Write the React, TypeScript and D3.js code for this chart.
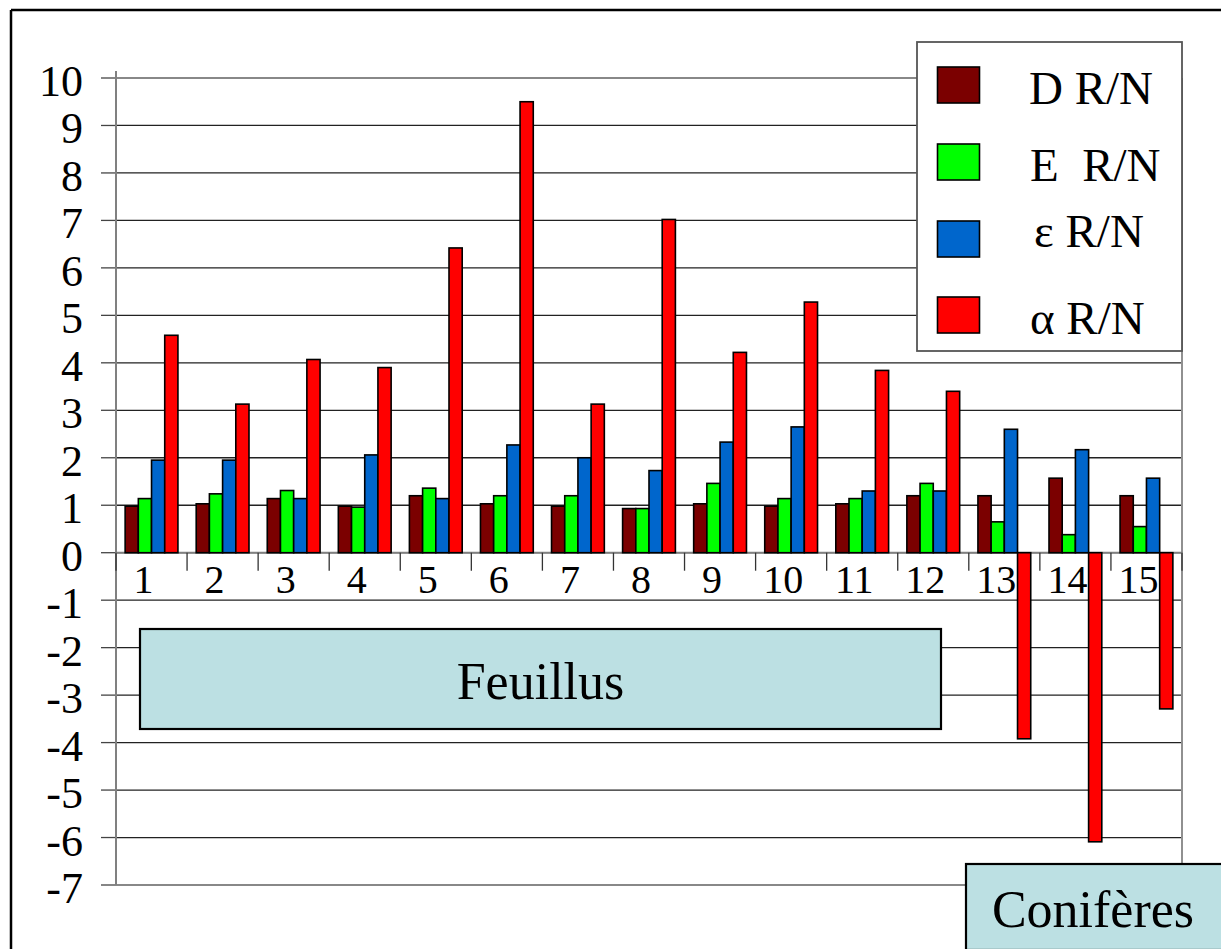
import React from "react";
import * as d3 from "d3";

const categories = ["1","2","3","4","5","6","7","8","9","10","11","12","13","14","15"];
const seriesNames = ["D R/N", "E  R/N", "ε R/N", "α R/N"];
const seriesD = [0.98,1.03,1.14,0.98,1.2,1.03,0.98,0.93,1.03,0.98,1.03,1.2,1.2,1.57,1.2];
const seriesE = [1.14,1.24,1.31,0.96,1.36,1.2,1.2,0.93,1.46,1.14,1.14,1.46,0.65,0.38,0.55];
const seriesEps = [1.95,1.95,1.14,2.06,1.14,2.27,2.0,1.73,2.33,2.65,1.3,1.3,2.6,2.17,1.57];
const seriesAlpha = [4.58,3.13,4.07,3.9,6.42,9.5,3.13,7.02,4.22,5.28,3.84,3.4,-3.92,-6.09,-3.29];
const yTicks = [10,9,8,7,6,5,4,3,2,1,0,-1,-2,-3,-4,-5,-6,-7];
const colors = ["#7B0000", "#00FF00", "#0066CC", "#FF0000"];
const groupLabels = ["Feuillus", "Conifères"];

export default function App() {
  const W = 1221, H = 949;
  const left = 116, right = 1182;
  const y = d3.scaleLinear().domain([-7, 10]).range([885, 78]);
  const x0 = d3.scaleBand<string>().domain(categories).range([left, right]).padding(0);
  const x1 = d3.scaleBand<string>().domain(seriesNames).range([0, x0.bandwidth()]).paddingInner(0).paddingOuter(0.692);
  const all = [seriesD, seriesE, seriesEps, seriesAlpha];

  const legendRowY = [67, 144, 221, 297];
  const legendTextX = [1029, 1030, 1034, 1030];

  return (
    <svg width={W} height={H} style={{ position: "absolute", left: 0, top: 0, display: "block", background: "#fff" }}>
      <style>{`text { font-family: "Liberation Serif", serif; }`}</style>
      <rect x={0} y={0} width={W} height={H} fill="#fff" />
      {/* outer frame */}
      <line x1={11} y1={10} x2={W} y2={10} stroke="#000" strokeWidth={2.5} />
      <line x1={11} y1={10} x2={11} y2={H} stroke="#000" strokeWidth={2.5} />

      {/* gridlines */}
      {yTicks.map((t) => (
        <line key={"g" + t} x1={left} x2={right} y1={y(t)} y2={y(t)}
          stroke={t === 10 || t === -7 ? "#888" : "#222"} strokeWidth={t === 10 || t === -7 ? 2 : 1.3} />
      ))}
      {/* y tick marks */}
      {yTicks.map((t) => (
        <line key={"t" + t} x1={101} x2={left} y1={y(t)} y2={y(t)} stroke="#444" strokeWidth={1.3} />
      ))}
      {/* axes */}
      <line x1={left} x2={left} y1={71} y2={y(-7)} stroke="#808080" strokeWidth={2} />
      <line x1={right} x2={right} y1={y(10)} y2={y(-7)} stroke="#909090" strokeWidth={2} />
      <line x1={left} x2={right} y1={y(0)} y2={y(0)} stroke="#808080" strokeWidth={2} />
      {/* y labels */}
      {yTicks.map((t) => (
        <text key={"l" + t} x={83} y={y(t) + 18} textAnchor="end" fontSize={44} fill="#000" fontFamily="serif">{t}</text>
      ))}
      {/* category boundary ticks */}
      {d3.range(categories.length + 1).map((k) => {
        const xx = left + k * x0.step();
        return <line key={"c" + k} x1={xx} x2={xx} y1={y(0)} y2={y(0) + 18} stroke="#333" strokeWidth={1.3} />;
      })}
      {/* category labels */}
      {categories.map((c) => (
        <text key={"cl" + c} x={(x0(c) as number) + x0.bandwidth() / 2 - 8} y={593} textAnchor="middle" fontSize={40} fill="#000" fontFamily="serif">{c}</text>
      ))}
      {/* bars */}
      {categories.map((c, i) => (
        <g key={"b" + c}>
          {all.map((s, j) => {
            const v = s[i];
            const bx = (x0(c) as number) + (x1(seriesNames[j]) as number);
            const top = Math.min(y(v), y(0));
            const h = Math.abs(y(v) - y(0));
            return <rect key={j} x={bx} y={top} width={x1.bandwidth()} height={h} fill={colors[j]} stroke="#000" strokeWidth={1.6} />;
          })}
        </g>
      ))}
      {/* Feuillus box */}
      <rect x={140} y={629} width={801} height={100} fill="#BCE0E3" stroke="#000" strokeWidth={2.2} />
      <text x={540.5} y={699} textAnchor="middle" fontSize={52} fill="#000" fontFamily="serif">{groupLabels[0]}</text>
      {/* Conifères box */}
      <rect x={966} y={864} width={258} height={86} fill="#BCE0E3" stroke="#000" strokeWidth={2.2} />
      <text x={1093} y={927} textAnchor="middle" fontSize={52} fill="#000" fontFamily="serif">{groupLabels[1]}</text>
      {/* legend */}
      <rect x={917} y={42} width={265} height={309} fill="#fff" stroke="#555" strokeWidth={1.8} />
      {seriesNames.map((n, j) => (
        <g key={"lg" + j}>
          <rect x={937.5} y={legendRowY[j]} width={42} height={36} fill={colors[j]} stroke="#000" strokeWidth={1.6} />
          <text x={legendTextX[j]} y={j === 2 ? 247 : legendRowY[j] + 37} fontSize={47} fill="#000" fontFamily="serif" style={{ whiteSpace: "pre" }}>{n}</text>
        </g>
      ))}
    </svg>
  );
}
